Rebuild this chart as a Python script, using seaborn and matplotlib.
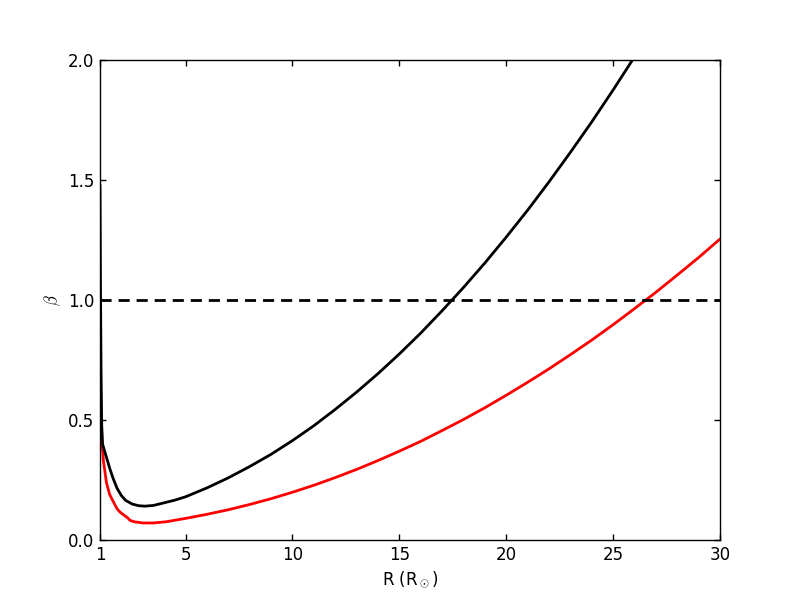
import matplotlib
matplotlib.use("Agg")
import matplotlib.pyplot as plt
import seaborn as sns

# data
r_black = [1.0, 1.02, 1.05, 1.08, 1.12, 1.2, 1.3, 1.45, 1.6, 1.8, 2.0, 2.2, 2.5, 2.8, 3.1,
           3.5, 4.0, 4.5, 5, 6, 7, 8, 9, 10, 11, 12, 13, 14, 15, 16, 17, 18, 19, 20,
           21, 22, 23, 24, 25, 26, 27]
beta_black = [1.48, 1.1, 0.7, 0.48, 0.40, 0.375, 0.345, 0.30, 0.26, 0.215, 0.185, 0.165, 0.15, 0.143, 0.141,
              0.144, 0.155, 0.166, 0.180, 0.217, 0.259, 0.306, 0.357, 0.414, 0.476, 0.544, 0.616, 0.693,
              0.775, 0.862, 0.955, 1.052, 1.154, 1.262, 1.374, 1.492, 1.615, 1.742, 1.875, 2.013, 2.156]

r_red = [1.0, 1.02, 1.05, 1.1, 1.16, 1.3, 1.45, 1.62, 1.8, 1.94, 2.1, 2.3, 2.4, 2.6, 3.0,
         3.5, 4.1, 5, 6, 7, 8, 9, 10, 11, 12, 13, 14, 15, 16, 17, 18, 19, 20, 21, 22,
         23, 24, 25, 26, 27, 28, 29, 30]
beta_red = [0.7, 0.6, 0.5, 0.4, 0.33, 0.24, 0.19, 0.16, 0.13, 0.116, 0.105, 0.092, 0.082, 0.076, 0.071,
            0.071, 0.076, 0.090, 0.107, 0.126, 0.148, 0.172, 0.199, 0.228, 0.260, 0.294, 0.331,
            0.370, 0.411, 0.456, 0.502, 0.551, 0.603, 0.657, 0.713, 0.772, 0.833, 0.897, 0.964,
            1.032, 1.104, 1.177, 1.254]

ref_x = [1, 30]
ref_y = [1.0, 1.0]

xticks = [1, 5, 10, 15, 20, 25, 30]
yticks = [0.0, 0.5, 1.0, 1.5, 2.0]

sns.set_style("ticks")
plt.rcParams.update({
    "font.family": ["DejaVu Sans"],
    "mathtext.fontset": "cm",
    "text.color": "black",
    "axes.labelcolor": "black",
    "xtick.labelcolor": "black",
    "ytick.labelcolor": "black",
    "xtick.direction": "in",
    "ytick.direction": "in",
    "xtick.top": True,
    "ytick.right": True,
    "xtick.major.size": 4,
    "ytick.major.size": 4,
    "axes.edgecolor": "black",
    "axes.linewidth": 1.0,
    "xtick.color": "black",
    "ytick.color": "black",
})

fig = plt.figure(figsize=(8, 6), dpi=100)
ax = fig.add_axes([0.125, 0.1, 0.775, 0.8])

sns.lineplot(x=r_red, y=beta_red, color="red", lw=2, ax=ax, sort=False)
sns.lineplot(x=r_black, y=beta_black, color="black", lw=2, ax=ax, sort=False)
sns.lineplot(x=ref_x, y=ref_y, color="black", lw=2, ax=ax, dashes=False, linestyle=(0, (4, 2.5)))

ax.set_xlim(1, 30)
ax.set_ylim(0, 2)
ax.set_xticks(xticks)
ax.set_xticklabels([str(t) for t in xticks])
ax.set_yticks(yticks)
ax.set_yticklabels([f"{t:.1f}" for t in yticks])
ax.tick_params(labelsize=12, width=1, pad=4, labelcolor="black")
ax.set_xlabel(r"R (R$_\odot$)", fontsize=12, color="black")
ax.set_ylabel(r"$\beta$", fontsize=12, color="black")
for s in ax.spines.values():
    s.set_visible(True)
    s.set_color("black")

fig.savefig("out.png", dpi=100)
